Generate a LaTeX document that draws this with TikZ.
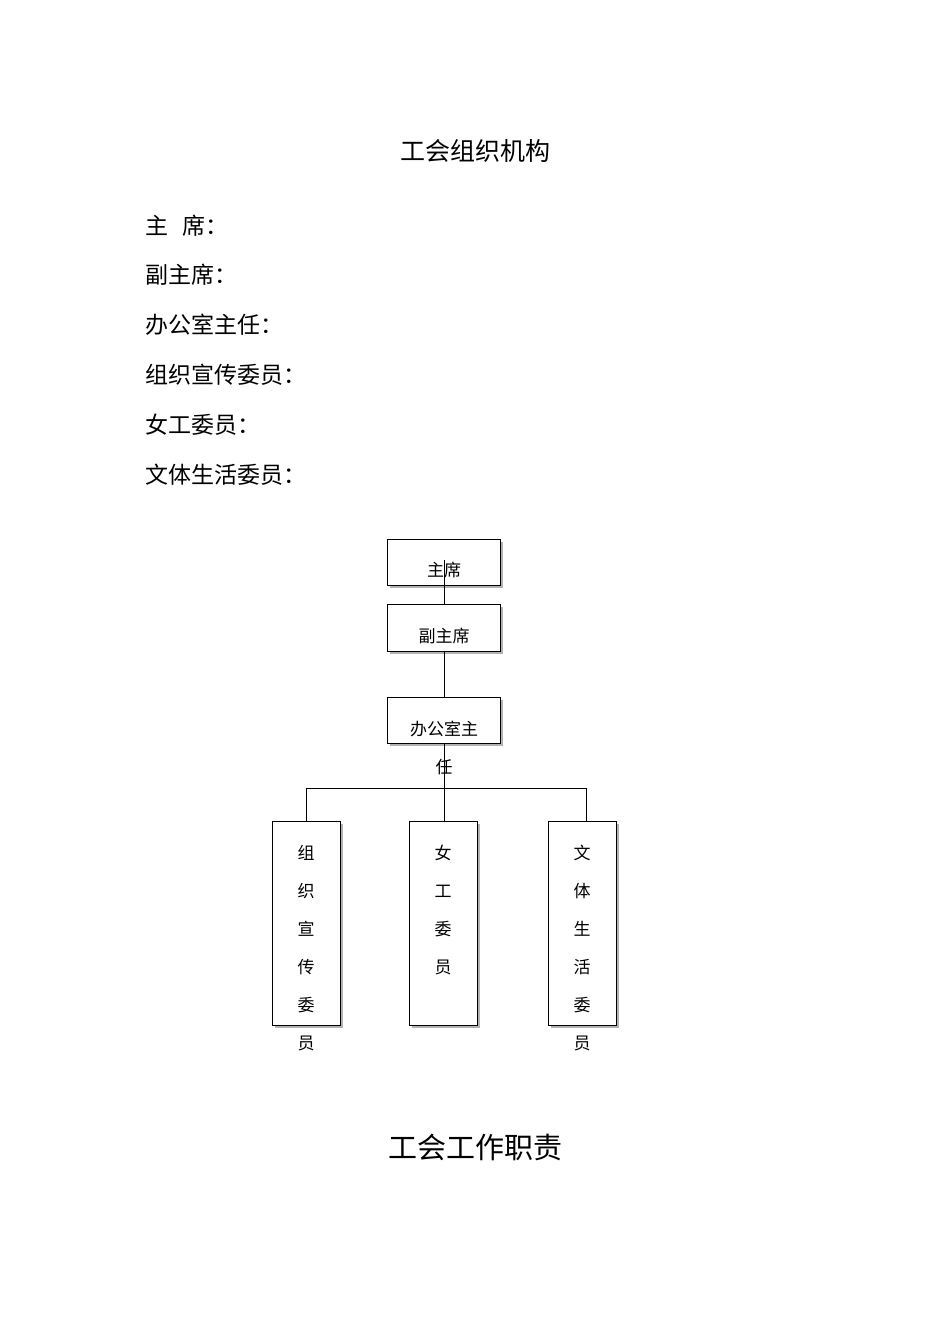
\documentclass[tikz,border=0pt]{standalone}
\usepackage{fontspec}
\setmainfont{Noto Sans CJK SC}
\begin{document}
\begin{tikzpicture}[x=1pt,y=-1pt,
  box/.style={draw=black,line width=0.9pt,fill=white},
  shad/.style={fill=gray!60,draw=none},
  cell/.style={inner sep=0pt,font=\fontsize{17}{17}\selectfont},
  item/.style={anchor=west,inner sep=0pt,font=\fontsize{23}{23}\selectfont},
  ln/.style={line width=0.8pt}]
\useasboundingbox (0,0) rectangle (950,1344);
\node[inner sep=0pt,font=\fontsize{25}{25}\selectfont] (t1) at (475,151) {工会组织机构};
\node[item] (a1) at (145,226) {主\hspace{0.6em}席：};
\node[item] (a2) at (145,275) {副主席：};
\node[item] (a3) at (145,325) {办公室主任：};
\node[item] (a4) at (145,375) {组织宣传委员：};
\node[item] (a5) at (145,425) {女工委员：};
\node[item] (a6) at (145,475) {文体生活委员：};
% shadows
\foreach \x/\y/\w/\h in {387/539/113/46,387/604/113/47,387/697/113/46,272/821/68/204,409/821/68/204,548/821/68/204}
  \fill[shad] (\x+3,\y+3) rectangle (\x+\w+3,\y+\h+3);
\draw[box] (387,539) rectangle (500,585);
\draw[box] (387,604) rectangle (500,651);
\draw[box] (387,697) rectangle (500,743);
\draw[box] (272,821) rectangle (340,1025);
\draw[box] (409,821) rectangle (477,1025);
\draw[box] (548,821) rectangle (616,1025);
\coordinate (b1t) at (444,585); \coordinate (b2t) at (444,604);
\coordinate (b2b) at (444,651); \coordinate (b3t) at (444,697);
\coordinate (b3b) at (444,743); \coordinate (mt) at (444,821);
\coordinate (jl) at (306,788); \coordinate (jr) at (586,788);
\coordinate (lt) at (306,821); \coordinate (rt) at (586,821);
\draw[ln] (444,560) -- (b2t);
\draw[ln] (b2b) -- (b3t);
\draw[ln] (b3b) -- (mt);
\draw[ln] (lt) -- (jl) -- (jr) -- (rt);
\node[cell] (n1) at (444,570) {主席};
\node[cell] (n2) at (444,636) {副主席};
\node[cell] (n3) at (444,729) {办公室主};
\node[cell] (n3b) at (444,767) {任};
\foreach \c [count=\i] in {组,织,宣,传,委,员}
  \node[cell] (l\i) at (306,853+38*\i-38) {\c};
\foreach \c [count=\i] in {女,工,委,员}
  \node[cell] (m\i) at (443,853+38*\i-38) {\c};
\foreach \c [count=\i] in {文,体,生,活,委,员}
  \node[cell] (r\i) at (582,853+38*\i-38) {\c};
\node[inner sep=0pt,font=\fontsize{29}{29}\selectfont] (t2) at (475,1147) {工会工作职责};
\end{tikzpicture}
\end{document}
